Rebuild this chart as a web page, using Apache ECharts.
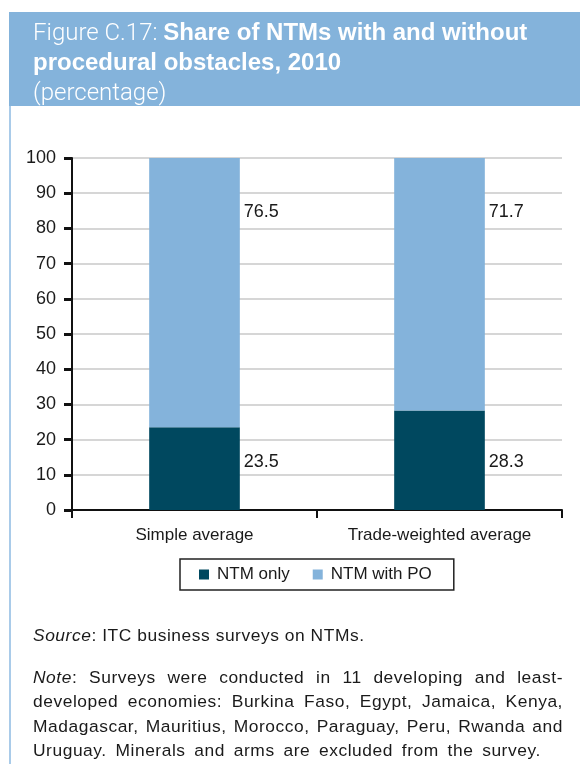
<!DOCTYPE html>
<html>
<head>
<meta charset="utf-8">
<script src="https://cdn.jsdelivr.net/npm/echarts@6/dist/echarts.min.js"></script>
<style>
  html, body { margin: 0; padding: 0; background: #fff; }
  body { width: 580px; height: 764px; position: relative; overflow: hidden; font-family: "Liberation Sans", Arial, sans-serif; color: #1a1a1a; }
  #side { position: absolute; left: 9px; top: 12px; width: 2px; height: 752px; background: #a9cbe9; }
  #head { position: absolute; left: 9px; top: 12px; width: 571px; height: 94px; background: #84b3db; color: #fff; }
  #head .t { position: absolute; left: 24px; top: 5px; font-size: 24px; line-height: 30px; white-space: nowrap; }
  #head .light { font-family: "Roboto", "Liberation Sans", sans-serif; font-weight: 300; }
  #head b { font-weight: bold; }
  #chart { position: absolute; left: 0; top: 0; width: 580px; height: 764px; }
  #foot { position: absolute; left: 33px; top: 623px; width: 530px; font-size: 17.4px; line-height: 24.6px; letter-spacing: 0.55px; }
  #foot p { margin: 0 0 17px 0; }
  #foot .j { display: block; text-align: justify; text-align-last: justify; white-space: nowrap; }
  #foot .l { display: block; white-space: nowrap; word-spacing: 3.4px; }
</style>
</head>
<body>
<div id="chart"></div>
<div id="side"></div>
<div id="head">
  <div class="t"><span class="light">Figure C.17: </span><b>Share of NTMs with and without</b><br><b>procedural obstacles, 2010</b><br><span class="light">(percentage)</span></div>
</div>
<div id="foot">
  <p><i>Source</i>: ITC business surveys on NTMs.</p>
  <p>
    <span class="j"><i>Note</i>: Surveys were conducted in 11 developing and least-</span>
    <span class="j">developed economies: Burkina Faso, Egypt, Jamaica, Kenya,</span>
    <span class="j">Madagascar, Mauritius, Morocco, Paraguay, Peru, Rwanda and</span>
    <span class="l">Uruguay. Minerals and arms are excluded from the survey.</span>
  </p>
</div>
<script>
// Categories, series and axis ticks
const categories = ['Simple average', 'Trade-weighted average'];
const ntmOnly = [23.5, 28.3];
const ntmWithPO = [76.5, 71.7];
const seriesNames = ['NTM only', 'NTM with PO'];
const yTicks = { min: 0, max: 100, step: 10 };

const DARK = '#00485f';
const LIGHT = '#84b3db';
const FONT = '"Liberation Sans", Arial, sans-serif';
const INK = '#1a1a1a';

const chart = echarts.init(document.getElementById('chart'), null, { renderer: 'canvas' });

const valueLabel = {
  show: true,
  color: INK,
  fontFamily: FONT,
  fontSize: 18,
  align: 'left',
  verticalAlign: 'middle',
  formatter: p => p.value.toFixed(1)
};

chart.setOption({
  animation: false,
  textStyle: { fontFamily: FONT },
  grid: { left: 72, right: 18, top: 158, bottom: 254 },
  legend: {
    data: seriesNames,
    left: 180,
    top: 559,
    orient: 'horizontal',
    padding: [7, 22, 7, 19],
    itemGap: 23,
    itemWidth: 10,
    itemHeight: 10,
    icon: 'rect',
    borderColor: '#222',
    borderWidth: 1.5,
    textStyle: { fontSize: 17, color: INK, fontFamily: FONT, padding: [0, 0, 0, 3] }
  },
  xAxis: {
    type: 'category',
    data: categories,
    axisLine: { lineStyle: { color: '#111', width: 2 } },
    axisTick: { show: true, length: 8, lineStyle: { color: '#111', width: 2 } },
    axisLabel: { fontSize: 17, color: INK, margin: 17, fontFamily: FONT },
    splitLine: { show: false }
  },
  yAxis: {
    type: 'value',
    min: yTicks.min,
    max: yTicks.max,
    interval: yTicks.step,
    axisLine: { show: true, lineStyle: { color: '#111', width: 2 } },
    axisTick: { show: true, inside: false, length: 8, lineStyle: { color: '#111', width: 3 } },
    axisLabel: { fontSize: 18, color: INK, margin: 16, fontFamily: FONT },
    splitLine: { show: true, lineStyle: { color: '#c8c8c8', width: 1.5 } }
  },
  series: [
    {
      name: seriesNames[0],
      type: 'bar',
      stack: 'total',
      barWidth: '37%',
      data: ntmOnly,
      itemStyle: { color: DARK },
      label: Object.assign({}, valueLabel, { position: ['100%', '100%'], offset: [4, -48] })
    },
    {
      name: seriesNames[1],
      type: 'bar',
      stack: 'total',
      barWidth: '37%',
      data: ntmWithPO,
      itemStyle: { color: LIGHT },
      label: Object.assign({}, valueLabel, { position: ['100%', 0], offset: [4, 54] })
    }
  ]
});
</script>
</body>
</html>
